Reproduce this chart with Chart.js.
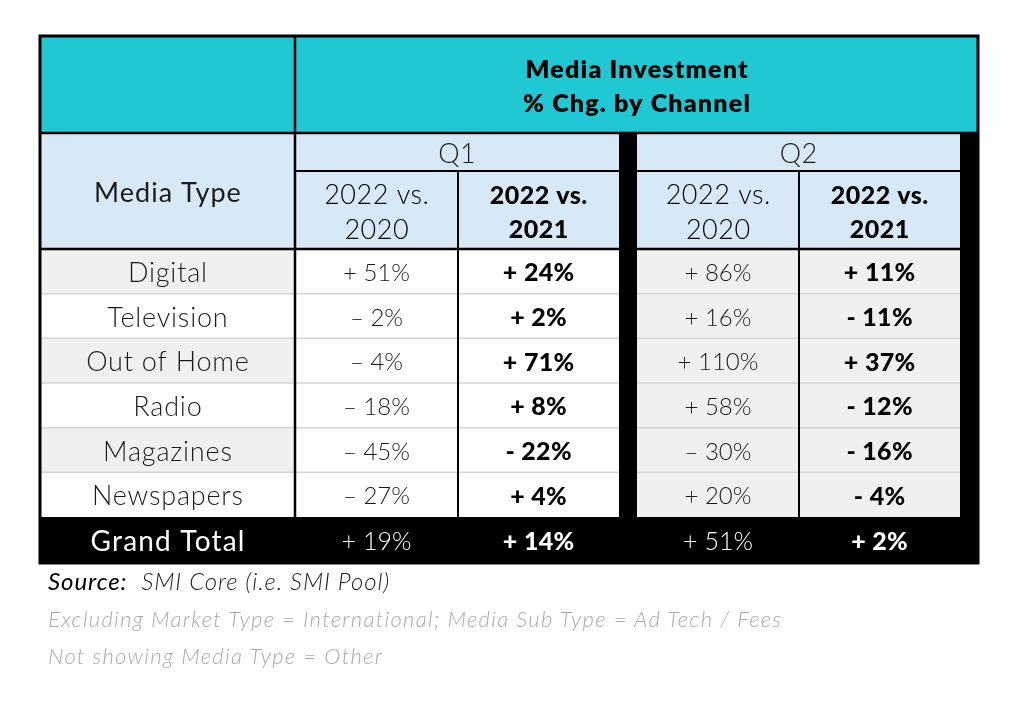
<!DOCTYPE html>
<html>
<head>
<meta charset="utf-8">
<script src="https://cdn.jsdelivr.net/npm/chart.js@4.4.1/dist/chart.umd.min.js"></script>
<style>
  html, body { margin: 0; padding: 0; background: #fff; }
  #wrap { position: relative; width: 1024px; height: 715px; }
  .note { position: absolute; left: 48px; font-family: Lato, sans-serif; font-style: italic; font-weight: 300; white-space: nowrap; line-height: 1; }
  #src { top: 569px; font-size: 24px; letter-spacing: 0.9px; color: #1e1e1e; }
  #src b { font-weight: 400; color: #000; }
  #ex1, #ex2 { font-size: 22px; letter-spacing: 1.3px; color: #a9a9a9; }
  #ex1 { top: 608px; }
  #ex2 { top: 645px; }
</style>
</head>
<body>
<div id="wrap">
  <canvas id="tableChart" width="1024" height="715"></canvas>
  <div class="note" id="src"><b>Source:</b>&nbsp; SMI Core (i.e. SMI Pool)</div>
  <div class="note" id="ex1">Excluding Market Type = International; Media Sub Type = Ad Tech / Fees</div>
  <div class="note" id="ex2">Not showing Media Type = Other</div>
</div>
<script>
// Table content
const titleLines = ['Media Investment', '% Chg. by Channel'];
const rowHeader = 'Media Type';
const quarters = ['Q1', 'Q2'];
const comparisons = [['2022 vs.', '2020'], ['2022 vs.', '2021']];
const mediaTypes = ['Digital', 'Television', 'Out of Home', 'Radio', 'Magazines', 'Newspapers'];
const q1vs2020 = [51, -2, -4, -18, -45, -27];
const q1vs2021 = [24, 2, 71, 8, -22, 4];
const q2vs2020 = [86, 16, 110, 58, -30, 20];
const q2vs2021 = [11, -11, 37, -12, -16, -4];
const totalLabel = 'Grand Total';
const grandTotal = [19, 14, 51, 2];

// Layout (table units = px)
const colWidths = [255, 163, 161, 18, 162, 161, 18];
const rowHeights = [97, 38, 78, 44.7, 44.6, 44.7, 44.7, 44.6, 44.7, 46];
const edges = arr => arr.reduce((acc, w) => { acc.push(acc[acc.length - 1] + w); return acc; }, [0]);
const colEdges = edges(colWidths);
const rowEdges = edges(rowHeights);

const teal = '#1fc8d3';
const lightBlue = '#d7e9f7';
const lightGrey = '#f0f0f0';
const ink = '#1b1b1b';
const FONT = 'Lato, "Open Sans", sans-serif';

function fmt(v, bold) {
    const sign = v >= 0 ? '+' : (bold ? '-' : '\u2013');
    return sign + ' ' + Math.abs(v) + '%';
}

const tablePlugin = {
    id: 'tablePlugin',
    afterDraw(chart) {
        const ctx = chart.ctx;
        const xs = chart.scales.x, ys = chart.scales.y;
        const X = c => xs.getPixelForValue(colEdges[c]);
        const Y = r => ys.getPixelForValue(rowEdges[r]);
        const fillCell = (c0, c1, r0, r1, color) => {
            ctx.fillStyle = color;
            ctx.fillRect(X(c0), Y(r0), X(c1) - X(c0), Y(r1) - Y(r0));
        };
        const hLine = (r, c0, c1, color, w) => {
            ctx.strokeStyle = color; ctx.lineWidth = w;
            ctx.beginPath(); ctx.moveTo(X(c0), Y(r)); ctx.lineTo(X(c1), Y(r)); ctx.stroke();
        };
        const vLine = (c, r0, r1, color, w) => {
            ctx.strokeStyle = color; ctx.lineWidth = w;
            ctx.beginPath(); ctx.moveTo(X(c), Y(r0)); ctx.lineTo(X(c), Y(r1)); ctx.stroke();
        };
        // centred text, with letter spacing compensated so it stays centred
        const text = (str, c0, c1, yVal, font, color, spacing) => {
            spacing = spacing || 0;
            ctx.font = font; ctx.fillStyle = color;
            ctx.letterSpacing = spacing + 'px';
            ctx.textAlign = 'center'; ctx.textBaseline = 'middle';
            ctx.fillText(str, (X(c0) + X(c1)) / 2 + spacing / 2, ys.getPixelForValue(yVal) + 2);
            ctx.letterSpacing = '0px';
        };
        const midRow = (r0, r1) => (rowEdges[r0] + rowEdges[r1]) / 2;
        const last = rowEdges.length - 1;
        const nCols = colWidths.length;

        ctx.save();
        // backgrounds
        fillCell(0, nCols, 0, 1, teal);
        fillCell(0, 1, 1, 3, lightBlue);
        fillCell(1, 3, 1, 3, lightBlue);
        fillCell(4, 6, 1, 3, lightBlue);
        mediaTypes.forEach((m, i) => {
            const r = 3 + i;
            fillCell(0, 1, r, r + 1, i % 2 === 0 ? lightGrey : '#ffffff');
            fillCell(1, 3, r, r + 1, '#ffffff');
            fillCell(4, 6, r, r + 1, lightGrey);
        });
        fillCell(3, 4, 1, last, '#000');
        fillCell(6, 7, 1, last, '#000');
        fillCell(0, nCols, last - 1, last, '#000');

        // light row separators
        for (let i = 1; i < mediaTypes.length; i++) {
            hLine(3 + i, 0, 3, '#d4d4d4', 1.5);
            hLine(3 + i, 4, 6, '#d4d4d4', 1.5);
        }
        // black grid lines
        hLine(1, 0, nCols, '#000', 2.5);
        hLine(2, 1, 3, '#000', 2);
        hLine(2, 4, 6, '#000', 2);
        hLine(3, 0, nCols, '#000', 2.5);
        vLine(1, 0, last - 1, '#000', 2.5);
        vLine(2, 2, last - 1, '#000', 2);
        vLine(5, 2, last - 1, '#000', 2);
        ctx.strokeStyle = '#000'; ctx.lineWidth = 3;
        ctx.strokeRect(X(0), Y(0), X(nCols) - X(0), Y(last) - Y(0));

        // header text
        const t0 = rowEdges[0], t1 = rowEdges[1];
        text(titleLines[0], 1, nCols, t0 + (t1 - t0) * 0.33, '800 25px ' + FONT, '#000', 1.2);
        text(titleLines[1], 1, nCols, t0 + (t1 - t0) * 0.68, '800 25px ' + FONT, '#000', 1.2);
        text(rowHeader, 0, 1, midRow(1, 3), '400 27px ' + FONT, ink, 1);
        text(quarters[0], 1, 3, midRow(1, 2), '300 27px ' + FONT, ink, 0.5);
        text(quarters[1], 4, 6, midRow(1, 2), '300 27px ' + FONT, ink, 0.5);
        const s0 = rowEdges[2], s1 = rowEdges[3];
        [[1, 0], [2, 1], [4, 0], [5, 1]].forEach(([c, k]) => {
            const font = k === 1 ? '900 25px ' + FONT : '300 27px ' + FONT;
            text(comparisons[k][0], c, c + 1, s0 + (s1 - s0) * 0.29, font, '#000', 0.5);
            text(comparisons[k][1], c, c + 1, s0 + (s1 - s0) * 0.73, font, '#000', 0.5);
        });

        // body text
        const series = [[1, q1vs2020, false], [2, q1vs2021, true], [4, q2vs2020, false], [5, q2vs2021, true]];
        mediaTypes.forEach((m, i) => {
            const r = 3 + i;
            text(m, 0, 1, midRow(r, r + 1), '300 27px ' + FONT, ink, 0.8);
            series.forEach(([c, vals, bold]) => {
                text(fmt(vals[i], bold), c, c + 1, midRow(r, r + 1),
                    bold ? '900 25px ' + FONT : '300 24px ' + FONT, bold ? '#000' : ink, bold ? 0.3 : 0);
            });
        });
        text(totalLabel, 0, 1, midRow(last - 1, last), '400 28px ' + FONT, '#fff', 1.2);
        series.forEach(([c, vals, bold], k) => {
            text(fmt(grandTotal[k], bold), c, c + 1, midRow(last - 1, last),
                bold ? '900 25px ' + FONT : '300 25px ' + FONT, '#fff', bold ? 0.3 : 0);
        });
        ctx.restore();
    }
};

new Chart(document.getElementById('tableChart'), {
    type: 'scatter',
    data: { datasets: [{ data: [] }] },
    options: {
        responsive: false,
        animation: false,
        layout: { padding: { left: 40, top: 36, right: 46, bottom: 152 } },
        plugins: { legend: { display: false }, tooltip: { enabled: false } },
        scales: {
            x: { type: 'linear', display: false, min: 0, max: colEdges[colEdges.length - 1] },
            y: { type: 'linear', display: false, min: 0, max: rowEdges[rowEdges.length - 1], reverse: true }
        }
    },
    plugins: [tablePlugin]
});
</script>
</body>
</html>
